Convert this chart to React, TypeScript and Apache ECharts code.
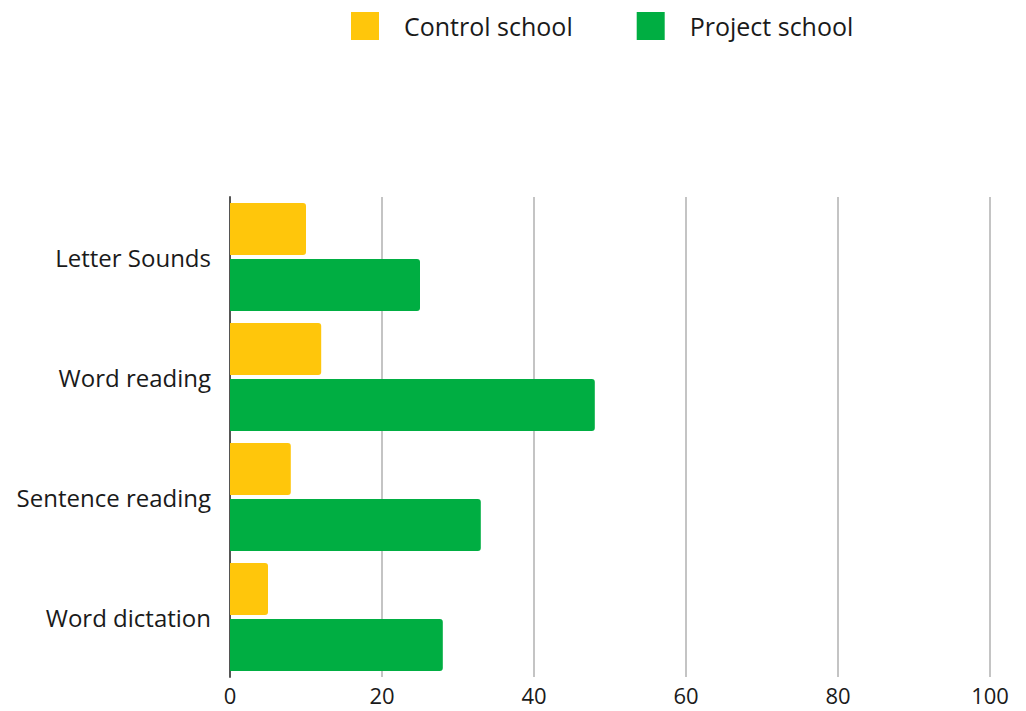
import React, { useEffect, useRef } from "react";
import * as echarts from "echarts";

const categories = ["Letter Sounds", "Word reading", "Sentence reading", "Word dictation"];
const controlValues = [10, 12, 8, 5];
const projectValues = [25, 48, 33, 28];
const seriesNames = ["Control school", "Project school"];
const xTicks = [0, 20, 40, 60, 80, 100];

const FONT = "'Open Sans', 'Noto Sans', sans-serif";

export default function App() {
  const ref = useRef<HTMLDivElement>(null);
  useEffect(() => {
    if (!ref.current) return;
    const chart = echarts.init(ref.current, null, { renderer: "svg" });
    chart.setOption({
      animation: false,
      textStyle: { fontFamily: FONT },
      legend: {
        top: 12,
        left: 351,
        padding: 0,
        itemWidth: 28,
        itemHeight: 28,
        itemGap: 64,
        icon: "rect",
        itemStyle: { borderRadius: 2 },
        textStyle: { fontSize: 25, color: "#1a1a1a", fontFamily: FONT, padding: [0, 0, 0, 20], lineHeight: 28 },
        data: seriesNames,
      },
      grid: { left: 230, right: 36, top: 197, bottom: 34, containLabel: false },
      xAxis: {
        type: "value",
        min: xTicks[0],
        max: xTicks[xTicks.length - 1],
        interval: 20,
        axisLine: { show: false },
        axisTick: { show: false },
        axisLabel: { fontSize: 22, lineHeight: 22, color: "#1a1a1a", margin: 7, fontFamily: FONT },
        splitLine: { show: true, lineStyle: { color: "#c4c4c4", width: 2 } },
      },
      yAxis: {
        type: "category",
        data: categories,
        inverse: true,
        axisLine: { show: true, lineStyle: { color: "#555555", width: 2 } },
        axisTick: { show: false },
        axisLabel: { fontSize: 24, color: "#1a1a1a", margin: 19, fontFamily: FONT },
      },
      series: [
        {
          name: seriesNames[0],
          type: "bar",
          data: controlValues,
          barCategoryGap: "10%",
          barGap: "7.7%",
          itemStyle: { color: "#FFC60B", borderRadius: [0, 3, 3, 0] },
        },
        {
          name: seriesNames[1],
          type: "bar",
          data: projectValues,
          barCategoryGap: "10%",
          barGap: "7.7%",
          itemStyle: { color: "#00AE42", borderRadius: [0, 3, 3, 0] },
        },
      ],
    });
    return () => chart.dispose();
  }, []);
  return <div ref={ref} style={{ width: 1026, height: 711, position: "absolute", left: 0, top: 0 }} />;
}
